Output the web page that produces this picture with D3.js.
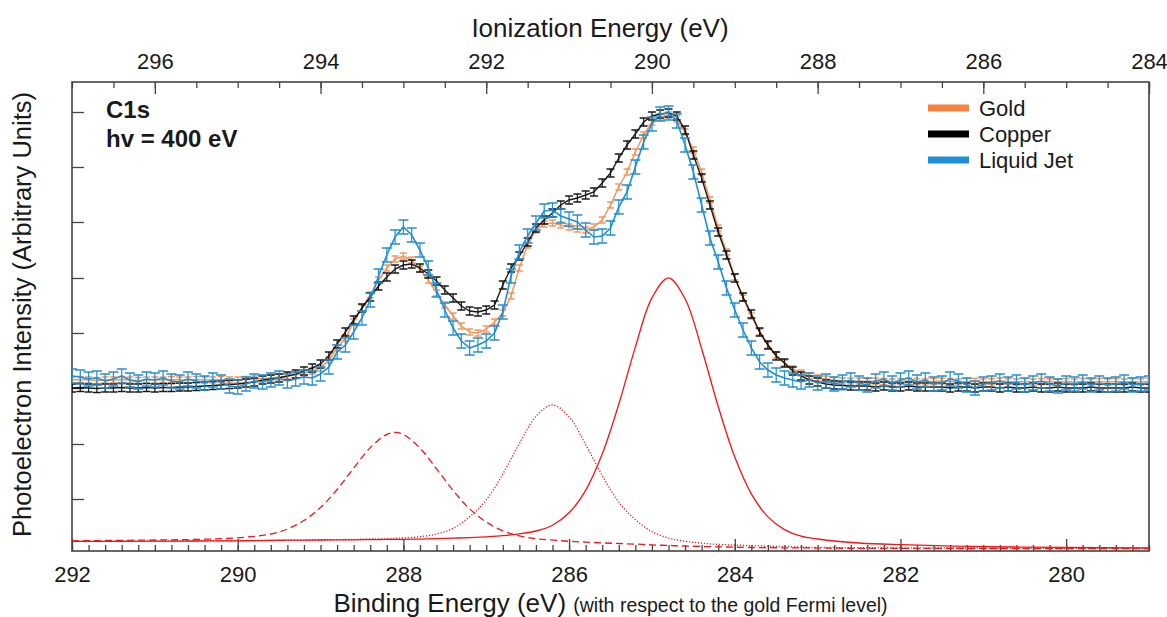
<!DOCTYPE html>
<html><head><meta charset="utf-8">
<script src="https://cdn.jsdelivr.net/npm/d3@7"></script>
<style>
body{margin:0;background:#fff}
svg{display:block}
text{font-family:"Liberation Sans",Arial,Helvetica,sans-serif;fill:#1a1a1a}
</style>
</head><body>
<svg id="chart" width="1167" height="617"></svg>
<script>
// ---------------- DATA ----------------
// Binding energy grid of the measurements (eV), 292.0 -> 279.0 in 0.1 eV steps
const energy = d3.range(131).map(i => +(292 - i * 0.1).toFixed(1));

// Photoelectron intensity (arbitrary units)
const gold = [
 171,171.5,171,170.5,171,171,171.5,171,170.5,171,171,
 171,171.5,171,171,171.5,171,171,171.5,171,171,
 171.5,172,172.5,173,174,175,176,178,180,183,
 191,203,213,229,243,256,271,283,292,295,
 291,282,271,258,246,235,225,219,218,222,
 229,238,255,283,306,321,327,328,326,324,
 322,321,324,331,346,364,379,399,416,429,
 434,436,432,419,401,379,351,323,299,274,
 253,235,219,206,196,188,182,178,175,173,
 172,171,170,170,
 170,169.5,170,169.5,169,169.5,170,169.5,169,169.5,
 170,169.5,169,169.5,169.5,169,169.5,170,169.5,169,
 169.5,169,169.5,169.5,169,169.5,169,169.5,169,169.5,
 169,169.5,169,169.5,169,169.5
];
const copper = [
 163,163.5,163,162.5,163,163,163.5,163,163,163.5,163,
 163.5,163.5,164,164,164.5,165,165.5,166,166.5,167,
 168,169,171,172,173,175,177,180,183,187,
 195,207,219,231,243,254,265,274,282,286,
 287,283,277,270,261,253,245,240,239,241,
 246,266,283,295,309,323,331,338,346,351,
 353,356,359,368,378,393,406,417,429,435,
 437,438,435,421,396,373,346,319,296,273,
 254,237,219,206,195,188,180,175,171,169,
 167,166,165.5,165,
 165,165,164,165,164,164,165,164,164,164,
 164,163,164,164,163,164,164,163,164,163,
 163,164,163,163,164,163,163,163,164,163,
 163,163,163,164,163,163
];
const liquidJet = [
 175,174,172,173,170,172,175,171,169,172,171,
 173,170,169,172,170,168,171,169,165,164,
 167,170,169,171,173,170,172,174,173,177,
 184,199,206,219,233,251,275,296,314,324,
 316,301,283,261,241,223,210,203,206,210,
 218,239,275,299,315,328,340,341,335,332,
 329,321,314,315,323,344,359,384,409,427,
 437,438,430,406,379,346,313,289,263,241,
 221,203,189,181,176,173,171,169,171,168,
 170,167,169,171,168,166,170,172,168,171,
 173,169,171,167,168,172,170,166,163,167,
 168,170,167,169,166,168,170,167,165,168,
 167,169,166,168,166,167,169,166,167,168
];
// error bar half-heights (same units)
const goldErr = 3, copperErr = 4, liquidJetErr = 7;

// Fit components (red)
const fitEnergy = [292,291,290.5,290,289.6,289.4,289.2,289.0,288.8,288.6,288.4,288.2,288.1,288.0,
 287.8,287.6,287.4,287.2,287.0,286.8,286.6,286.4,286.2,286.0,285.8,285.6,285.4,285.2,285.0,
 284.8,284.6,284.4,284.2,284.0,283.8,283.6,283.4,283.2,283.0,282.5,282,281,280,279];
const fitMain = [9.6,9.8,10.0,10.2,10.6,10.8,10.9,11.0,11.1,11.2,11.4,11.6,11.65,11.7,
 11.9,12.3,12.8,13.4,14.2,15.3,17.2,20.0,25.8,38.2,60.7,96.9,146.8,203.9,253.1,
 273.1,252.3,202.3,144.5,93.9,57.1,34.1,21.4,14.8,12,8,6.3,4.4,3.6,3.0];
const fitHigh = [10.2,11.0,11.6,13.2,17.0,21.9,30.5,43.4,61.5,82.9,103.3,116.6,118.6,116.6,
 102.9,82.2,60.5,42.1,29.0,20.2,15.1,12.3,10.9,9.7,8.9,8.1,7.5,6.9,6.1,
 5.5,5.0,4.5,4.15,3.8,3.5,3.3,3.2,3.1,2.9,2.7,2.6,2.5,2.4,2.3];
const fitMid = [9.6,9.9,10.1,10.3,10.5,10.6,10.7,11.2,11.4,11.6,12.0,12.2,12.7,13.1,
 14.3,17.0,22.7,34.2,51.1,77.0,107.4,134.6,146.0,134.2,106.4,75.4,48.9,31.4,19.3,
 13.0,9.7,7.9,6.6,6.0,5.3,4.9,4.5,3.9,3.6,3.4,3.2,2.9,2.7,2.5];

// Axes
const bottomTicks = [292,290,288,286,284,282,280];
const topTicks = [296,294,292,290,288,286,284];
const yTicks = [52,107,163,218,273,329,384,439];
const seriesNames = ["Gold","Copper","Liquid Jet"];
const seriesColors = ["#F5833F","#000000","#1F8FD3"];

// ---------------- CHART ----------------
const svg = d3.select("#chart");
const L = 72, R = 1149, T = 82, B = 551;
const x = d3.scaleLinear().domain([292,279]).range([L,R]);
const xTop = d3.scaleLinear().domain([297,284]).range([L,R]);
const y = d3.scaleLinear().domain([0,469]).range([B,T]);
const axisColor = "#444";

// bottom axis
const gB = svg.append("g").attr("transform",`translate(0,${B})`);
gB.call(d3.axisBottom(x).tickValues(d3.range(292,278.99,-0.2)).tickSize(-6).tickFormat(""));
const gB2 = svg.append("g").attr("transform",`translate(0,${B})`);
gB2.call(d3.axisBottom(x).tickValues(bottomTicks).tickSize(-12).tickPadding(15).tickFormat(d3.format("d")));
// top axis
const gT = svg.append("g").attr("transform",`translate(0,${T})`);
gT.call(d3.axisTop(xTop).tickValues(d3.range(297,283.99,-0.5)).tickSize(-6).tickFormat(""));
const gT2 = svg.append("g").attr("transform",`translate(0,${T})`);
gT2.call(d3.axisTop(xTop).tickValues(topTicks).tickSize(-12).tickPadding(13).tickFormat(d3.format("d")));
// left axis
const gL = svg.append("g").attr("transform",`translate(${L},0)`);
gL.call(d3.axisLeft(y).tickValues(yTicks).tickSize(-12).tickFormat(""));

svg.selectAll(".domain").remove();
svg.selectAll(".tick line").attr("stroke",axisColor).attr("stroke-width",1.3);
svg.selectAll(".tick text").attr("font-size",22).attr("fill","#1a1a1a")
   .style("font-family",'"Liberation Sans",Arial,sans-serif');

// frame
svg.append("rect").attr("x",L).attr("y",T).attr("width",R-L).attr("height",B-T)
  .attr("fill","none").attr("stroke",axisColor).attr("stroke-width",1.6);

// clip
svg.append("clipPath").attr("id","clip").append("rect")
  .attr("x",L).attr("y",T).attr("width",R-L).attr("height",B-T);
const plot = svg.append("g").attr("clip-path","url(#clip)");

// fit curves
const fitLine = d3.line().x((d,i)=>x(fitEnergy[i])).y(d=>y(d)).curve(d3.curveCatmullRom.alpha(0.5));
[[fitHigh,"7,4"],[fitMid,"1.2,1.8"],[fitMain,null]].forEach(([vals,dash])=>{
  const p = plot.append("path").attr("d",fitLine(vals)).attr("fill","none")
    .attr("stroke","#FF1010").attr("stroke-width",1.3);
  if(dash) p.attr("stroke-dasharray",dash);
});

// data series with error bars
function drawSeries(vals, err, color, capW, lw, op){
  const g = plot.append("g").attr("opacity",op);
  const line = d3.line().x((d,i)=>x(energy[i])).y(d=>y(d));
  g.append("path").attr("d",line(vals)).attr("fill","none").attr("stroke",color).attr("stroke-width",lw);
  const eb = g.selectAll("g.eb").data(vals).join("g");
  eb.append("line").attr("x1",(d,i)=>x(energy[i])).attr("x2",(d,i)=>x(energy[i]))
    .attr("y1",d=>y(d-err)).attr("y2",d=>y(d+err)).attr("stroke",color).attr("stroke-width",1.2);
  [-1,1].forEach(s=>{
    eb.append("line").attr("x1",(d,i)=>x(energy[i])-capW).attr("x2",(d,i)=>x(energy[i])+capW)
      .attr("y1",d=>y(d+s*err)).attr("y2",d=>y(d+s*err)).attr("stroke",color).attr("stroke-width",1.5);
  });
}
drawSeries(gold, goldErr, seriesColors[0], 3.5, 1.5, 0.85);
drawSeries(copper, copperErr, seriesColors[1], 4, 1.4, 0.9);
drawSeries(liquidJet, liquidJetErr, seriesColors[2], 5, 1.6, 1);

// legend
const lg = svg.append("g");
seriesNames.forEach((n,i)=>{
  const yy = 108 + i*26;
  lg.append("line").attr("x1",928).attr("x2",969).attr("y1",yy).attr("y2",yy)
    .attr("stroke",seriesColors[i]).attr("stroke-width",7);
  lg.append("text").attr("x",979).attr("y",yy+8).attr("font-size",22).text(n);
});

// annotation
svg.append("text").attr("x",106).attr("y",118).attr("font-size",24).attr("font-weight","bold").text("C1s");
svg.append("text").attr("x",106).attr("y",147).attr("font-size",24).attr("font-weight","bold").text("hv = 400 eV");

// titles
svg.append("text").attr("x",600).attr("y",37).attr("text-anchor","middle").attr("font-size",26)
  .text("Ionization Energy (eV)");
const bt = svg.append("text").attr("x",(L+R)/2).attr("y",612).attr("text-anchor","middle");
bt.append("tspan").attr("font-size",26).text("Binding Energy (eV) ");
bt.append("tspan").attr("font-size",19.5).text("(with respect to the gold Fermi level)");
svg.append("text").attr("transform",`translate(31,${(T+B)/2 - 2}) rotate(-90)`)
  .attr("text-anchor","middle").attr("font-size",25.5)
  .text("Photoelectron Intensity (Arbitrary Units)");
</script>
</body></html>
